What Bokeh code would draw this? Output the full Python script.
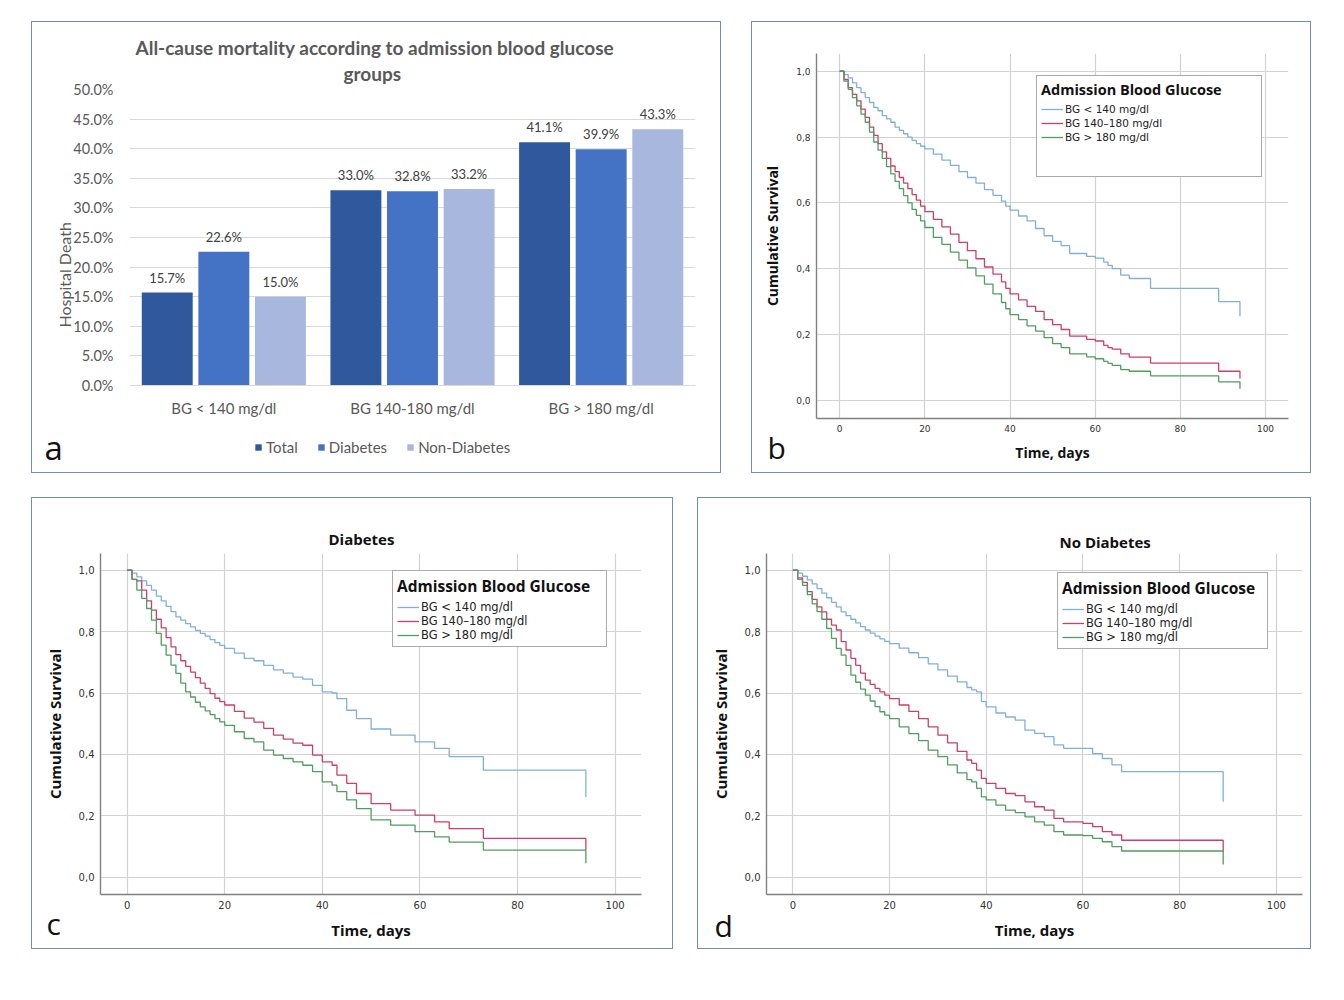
from bokeh.plotting import figure
from bokeh.models import (ColumnDataSource, FactorRange, Range1d, FixedTicker,
                          PrintfTickFormatter, CustomJSTickFormatter, Legend,
                          LegendItem, Title, Spacer)
from bokeh.layouts import row, column
from bokeh.transform import dodge
from bokeh.embed import file_html
from bokeh.resources import INLINE

# ---------------- data: panel a ----------------
CATS = ["BG < 140 mg/dl", "BG 140-180 mg/dl", "BG > 180 mg/dl"]
SERIES = ["Total", "Diabetes", "Non-Diabetes"]
TOTAL = [15.7, 33.0, 41.1]
DIABETES = [22.6, 32.8, 39.9]
NON_DIABETES = [15.0, 33.2, 43.3]
Y_TICKS_A = [0, 5, 10, 15, 20, 25, 30, 35, 40, 45, 50]

# ---------------- data: Kaplan-Meier panels ----------------
KM_LABELS = ["BG < 140 mg/dl", "BG 140\u2013180 mg/dl", "BG > 180 mg/dl"]
X_TICKS_KM = [0, 20, 40, 60, 80, 100]
Y_TICKS_KM = [0.0, 0.2, 0.4, 0.6, 0.8, 1.0]

# panel b: all patients
T_B = [0, 1, 2, 3, 4, 5, 6, 7, 8, 9, 10, 11, 12, 13, 14, 15, 16, 17, 18, 19, 20,
       22, 24, 26, 28, 30, 32, 34, 36, 38, 39, 40, 42, 44, 46, 48, 50, 52, 54,
       58, 60, 62, 63, 64, 66, 68, 73, 89, 94]
B_LOW = [1.0, 0.99, 0.98, 0.965, 0.95, 0.935, 0.92, 0.905, 0.89, 0.88, 0.865, 0.855, 0.845,
         0.83, 0.82, 0.81, 0.80, 0.79, 0.78, 0.772, 0.764,
         0.748, 0.73, 0.714, 0.695, 0.677, 0.66, 0.64, 0.623, 0.605, 0.59, 0.578,
         0.56, 0.545, 0.522, 0.50, 0.483, 0.47, 0.446,
         0.437, 0.432, 0.42, 0.41, 0.40, 0.38, 0.37, 0.34, 0.30, 0.255]
B_MID = [1.0, 0.975, 0.95, 0.93, 0.91, 0.885, 0.86, 0.83, 0.805, 0.78, 0.755, 0.735, 0.712,
         0.695, 0.677, 0.66, 0.643, 0.625, 0.608, 0.59, 0.573,
         0.55, 0.527, 0.505, 0.48, 0.455, 0.43, 0.405, 0.383, 0.36, 0.34, 0.323,
         0.305, 0.285, 0.27, 0.245, 0.23, 0.215, 0.195,
         0.185, 0.18, 0.167, 0.16, 0.155, 0.141, 0.131, 0.113, 0.088, 0.066]
B_HIGH = [1.0, 0.97, 0.945, 0.92, 0.895, 0.87, 0.845, 0.815, 0.785, 0.76, 0.735, 0.71, 0.688,
          0.665, 0.643, 0.622, 0.60, 0.58, 0.562, 0.545, 0.525,
          0.495, 0.474, 0.45, 0.426, 0.402, 0.378, 0.353, 0.323, 0.297, 0.278, 0.26,
          0.245, 0.226, 0.21, 0.19, 0.172, 0.16, 0.141,
          0.132, 0.126, 0.118, 0.112, 0.106, 0.093, 0.088, 0.074, 0.056, 0.035]

# panel c: diabetes
T_C = [0, 1, 2, 3, 4, 5, 6, 7, 8, 9, 10, 11, 12, 13, 14, 15, 16, 17, 18, 19, 20,
       22, 24, 26, 28, 30, 32, 34, 36, 38, 40,
       42, 43, 45, 47, 50, 54, 59, 63, 66, 73, 94]
C_LOW = [1.0, 0.99, 0.978, 0.965, 0.95, 0.935, 0.915, 0.9, 0.882, 0.865, 0.848, 0.837, 0.826,
         0.815, 0.804, 0.794, 0.785, 0.774, 0.764, 0.755, 0.745,
         0.73, 0.713, 0.705, 0.69, 0.675, 0.665, 0.652, 0.645, 0.625, 0.604,
         0.6, 0.582, 0.544, 0.517, 0.483, 0.463, 0.441, 0.42, 0.393, 0.349, 0.262]
C_MID = [1.0, 0.97, 0.965, 0.935, 0.9, 0.87, 0.84, 0.812, 0.78, 0.75, 0.725, 0.705, 0.687,
         0.668, 0.65, 0.632, 0.615, 0.598, 0.583, 0.572, 0.561,
         0.54, 0.518, 0.505, 0.485, 0.463, 0.45, 0.437, 0.43, 0.398, 0.376,
         0.365, 0.333, 0.306, 0.273, 0.24, 0.219, 0.203, 0.181, 0.159, 0.127, 0.089]
C_HIGH = [1.0, 0.97, 0.935, 0.908, 0.875, 0.837, 0.794, 0.756, 0.723, 0.691, 0.664, 0.632, 0.604,
          0.587, 0.57, 0.555, 0.542, 0.53, 0.517, 0.506, 0.495,
          0.474, 0.452, 0.441, 0.414, 0.398, 0.387, 0.376, 0.365, 0.344, 0.311,
          0.3, 0.279, 0.252, 0.224, 0.187, 0.17, 0.149, 0.132, 0.115, 0.089, 0.046]

# panel d: no diabetes
T_D = [0, 1, 2, 3, 4, 5, 6, 7, 8, 9, 10, 11, 12, 13, 14, 15, 16, 17, 18, 19, 20,
       22, 24, 26, 28, 30, 32, 34, 36, 37, 38, 39, 40,
       42, 44, 46, 48, 50, 52, 54, 56, 60, 62, 64, 66, 68, 89]
D_LOW = [1.0, 0.99, 0.98, 0.968, 0.955, 0.94, 0.925, 0.91, 0.895, 0.88, 0.864, 0.852, 0.84,
         0.828, 0.816, 0.805, 0.795, 0.785, 0.776, 0.768, 0.761,
         0.746, 0.731, 0.715, 0.695, 0.675, 0.655, 0.636, 0.618, 0.61, 0.604, 0.572, 0.555,
         0.535, 0.522, 0.512, 0.479, 0.469, 0.458, 0.431, 0.42,
         0.42, 0.403, 0.387, 0.366, 0.344, 0.246]
D_MID = [1.0, 0.975, 0.96, 0.93, 0.905, 0.88, 0.864, 0.84, 0.821, 0.805, 0.767, 0.74, 0.713,
         0.69, 0.665, 0.642, 0.628, 0.615, 0.604, 0.593, 0.582,
         0.561, 0.54, 0.517, 0.49, 0.463, 0.438, 0.41, 0.382, 0.371, 0.349, 0.322, 0.306,
         0.29, 0.273, 0.266, 0.246, 0.23, 0.219, 0.192, 0.181,
         0.176, 0.165, 0.149, 0.138, 0.121, 0.084]
D_HIGH = [1.0, 0.97, 0.95, 0.92, 0.89, 0.865, 0.84, 0.81, 0.778, 0.745, 0.723, 0.69, 0.658,
          0.635, 0.613, 0.593, 0.574, 0.556, 0.539, 0.528, 0.517,
          0.49, 0.468, 0.445, 0.414, 0.393, 0.366, 0.34, 0.318, 0.311, 0.29, 0.262, 0.252,
          0.235, 0.219, 0.211, 0.197, 0.181, 0.17, 0.149, 0.138,
          0.136, 0.127, 0.116, 0.1, 0.086, 0.042]

# ---------------- styles ----------------
BAR_COLORS = ["#30589c", "#4472c4", "#a7b7de"]
KM_COLORS = ["#80b0d8", "#cc3f68", "#529c60"]
FRAME_STYLE = {"outline": "1.5px solid #6f90b4"}
EXCEL_FONT = "Lato"
SPSS_FONT = "Open Sans"
GREY = "#595959"


def letter_title(p, letter, offset, standoff, size):
    p.add_layout(Title(text=letter, align="left", vertical_align="top", offset=offset,
                       standoff=standoff, text_font=SPSS_FONT, text_font_size=size,
                       text_font_style="normal", text_color="#111111"), "below")


# ---------------- panel a: bar chart ----------------
pa = figure(width=688, height=450, x_range=FactorRange(*CATS), y_range=Range1d(0, 50),
            output_backend="svg", toolbar_location=None,
            min_border_left=97, min_border_right=25, min_border_top=67, min_border_bottom=87)
pa.outline_line_color = None

src_a = ColumnDataSource(dict(
    cat=CATS, total=TOTAL, diabetes=DIABETES, nondiabetes=NON_DIABETES,
    total_lbl=["%.1f%%" % v for v in TOTAL],
    diabetes_lbl=["%.1f%%" % v for v in DIABETES],
    nondiabetes_lbl=["%.1f%%" % v for v in NON_DIABETES],
))
bar_renderers = []
for col, off, color in zip(["total", "diabetes", "nondiabetes"], [-0.3, 0.0, 0.3], BAR_COLORS):
    r = pa.vbar(x=dodge("cat", off, range=pa.x_range), top=col, width=0.27, source=src_a,
                fill_color=color, line_color=None)
    bar_renderers.append(r)
    pa.text(x=dodge("cat", off, range=pa.x_range), y=col, text=col + "_lbl", source=src_a,
            text_align="center", text_baseline="bottom", y_offset=-7,
            text_font={"value": EXCEL_FONT}, text_font_size="13px", text_color="#404040")

pa.yaxis.ticker = FixedTicker(ticks=Y_TICKS_A)
pa.yaxis.formatter = PrintfTickFormatter(format="%.1f%%")
pa.yaxis.axis_line_color = None
pa.yaxis.major_tick_line_color = None
pa.yaxis.minor_tick_line_color = None
pa.yaxis.major_tick_out = 0
pa.yaxis.minor_tick_out = 0
pa.yaxis.major_label_text_font = EXCEL_FONT
pa.yaxis.major_label_text_font_size = "14.5px"
pa.yaxis.major_label_text_color = GREY
pa.yaxis.major_label_standoff = 16

pa.xaxis.axis_line_color = "#d9d9d9"
pa.xaxis.major_tick_line_color = None
pa.xaxis.minor_tick_line_color = None
pa.xaxis.major_tick_out = 0
pa.xaxis.minor_tick_out = 0
pa.xaxis.major_label_text_font = EXCEL_FONT
pa.xaxis.major_label_text_font_size = "15px"
pa.xaxis.major_label_text_color = GREY
pa.xaxis.major_label_standoff = 13

pa.xgrid.visible = False
pa.ygrid.ticker = FixedTicker(ticks=Y_TICKS_A)
pa.ygrid.grid_line_color = "#d9d9d9"

pa.add_layout(Title(text="groups", align="left", offset=214, standoff=10,
                    text_font=EXCEL_FONT, text_font_size="19px", text_font_style="bold",
                    text_color=GREY), "above")
pa.add_layout(Title(text="All-cause mortality according to admission blood glucose",
                    align="left", offset=6, standoff=-8,
                    text_font=EXCEL_FONT, text_font_size="19px", text_font_style="bold",
                    text_color=GREY), "above")
pa.add_layout(Title(text="Hospital Death", align="left", vertical_align="bottom", offset=58,
                    standoff=-6, text_font=EXCEL_FONT, text_font_size="16px",
                    text_font_style="normal", text_color=GREY), "left")

leg_a = Legend(items=[LegendItem(label=s, renderers=[r]) for s, r in zip(SERIES, bar_renderers)],
               orientation="horizontal", location=(125, -14), margin=0,
               glyph_width=8, glyph_height=8, label_standoff=4, spacing=19, padding=0,
               label_text_font=EXCEL_FONT, label_text_font_size="15px",
               label_text_color=GREY, border_line_color=None, background_fill_alpha=0)
pa.add_layout(leg_a, "below")
letter_title(pa, "a", -85, -26, "33px")


# ---------------- KM panels ----------------
def km_panel(w, ml, mr, mt, mb, times, s_lo, s_mid, s_hi, fs, title_text, title_offset,
             title_standoff, leg_loc, label_w, blank_rows, letter, l_off, l_standoff):
    p = figure(width=w, height=450, x_range=Range1d(-5.45, 105.4),
               y_range=Range1d(-0.0556, 1.054), output_backend="svg",
               toolbar_location=None, min_border_left=ml, min_border_right=mr,
               min_border_top=mt, min_border_bottom=mb)
    p.outline_line_color = None
    src = ColumnDataSource(dict(t=times, lo=s_lo, mid=s_mid, hi=s_hi))
    rs = []
    for col, color in zip(["lo", "mid", "hi"], KM_COLORS):
        rs.append(p.step(x="t", y=col, source=src, mode="after", line_color=color,
                         line_width=1.3))

    p.xaxis.ticker = FixedTicker(ticks=X_TICKS_KM)
    p.yaxis.ticker = FixedTicker(ticks=Y_TICKS_KM)
    p.yaxis.formatter = CustomJSTickFormatter(code="return tick.toFixed(1).replace('.', ',');")
    p.xgrid.ticker = FixedTicker(ticks=X_TICKS_KM)
    p.ygrid.ticker = FixedTicker(ticks=Y_TICKS_KM)
    for g in (p.xgrid, p.ygrid):
        g.grid_line_color = "#d2d2d2"
        g.grid_line_width = 1.2
    for ax in (p.xaxis, p.yaxis):
        ax.axis_line_color = "#808080"
        ax.axis_line_width = 1.4
        ax.major_tick_line_color = None
        ax.minor_tick_line_color = None
        ax.major_tick_out = 0
        ax.minor_tick_out = 0
        ax.major_label_text_font = "DejaVu Sans"
        ax.major_label_text_font_size = fs["tick"]
        ax.major_label_text_color = "#333333"
        ax.major_label_standoff = 6
        ax.axis_label_text_font = SPSS_FONT
        ax.axis_label_text_font_style = "bold"
        ax.axis_label_text_font_size = fs["label"]
        ax.axis_label_text_color = "#111111"
    p.xaxis.axis_label = "Time, days"
    p.yaxis.axis_label = "Cumulative Survival"
    p.xaxis.axis_label_standoff = 8
    p.yaxis.axis_label_standoff = 11

    if title_text:
        p.add_layout(Title(text=title_text, align="left", offset=title_offset,
                           standoff=title_standoff, text_font=SPSS_FONT,
                           text_font_size=fs["label"], text_font_style="bold",
                           text_color="#111111"), "above")

    items = [LegendItem(label=l, renderers=[r]) for l, r in zip(KM_LABELS, rs)]
    for _ in range(blank_rows):
        items.append(LegendItem(label=" ", renderers=[]))
    leg = Legend(items=items,
                 location=leg_loc, title="Admission Blood Glucose",
                 title_text_font=SPSS_FONT, title_text_font_style="bold",
                 title_text_font_size=fs["legtitle"], title_text_color="#111111",
                 title_standoff=3, padding=4, spacing=0, margin=0,
                 label_height=14, glyph_height=14, glyph_width=22, label_standoff=2,
                 label_width=label_w,
                 label_text_font="DejaVu Sans", label_text_font_size=fs["legitem"],
                 label_text_color="#222222", border_line_color="#555555",
                 border_line_width=1.5, background_fill_color="white",
                 background_fill_alpha=1.0)
    p.add_layout(leg, "center")
    letter_title(p, letter, l_off, l_standoff, "30px")
    return p


FS_B = {"tick": "9px", "label": "14px", "legtitle": "14.5px", "legitem": "10.5px"}
FS_CD = {"tick": "10px", "label": "15px", "legtitle": "15.5px", "legitem": "11.5px"}

pb = km_panel(558, 64, 22, 31, 54, T_B, B_LOW, B_MID, B_HIGH, FS_B, None, 0, 10,
              (220, 241), 192, 2, "b", -49, -76)
pc = km_panel(640, 68, 31, 55, 54, T_C, C_LOW, C_MID, C_HIGH, FS_CD, "Diabetes", 228, 10,
              (292, 247), 181, 0, "c", -54, -79)
pd_ = km_panel(612, 68, 8, 55, 54, T_D, D_LOW, D_MID, D_HIGH, FS_CD, "No Diabetes", 293, 4,
               (291, 245), 177, 0, "d", -52, -75)

layout = column(
    Spacer(height=22),
    row(Spacer(width=32), column(pa, styles=FRAME_STYLE), Spacer(width=32),
        column(pb, styles=FRAME_STYLE)),
    Spacer(height=26),
    row(Spacer(width=32), column(pc, styles=FRAME_STYLE), Spacer(width=26),
        column(pd_, styles=FRAME_STYLE)),
)

open("out.html", "w").write(file_html(layout, INLINE))
